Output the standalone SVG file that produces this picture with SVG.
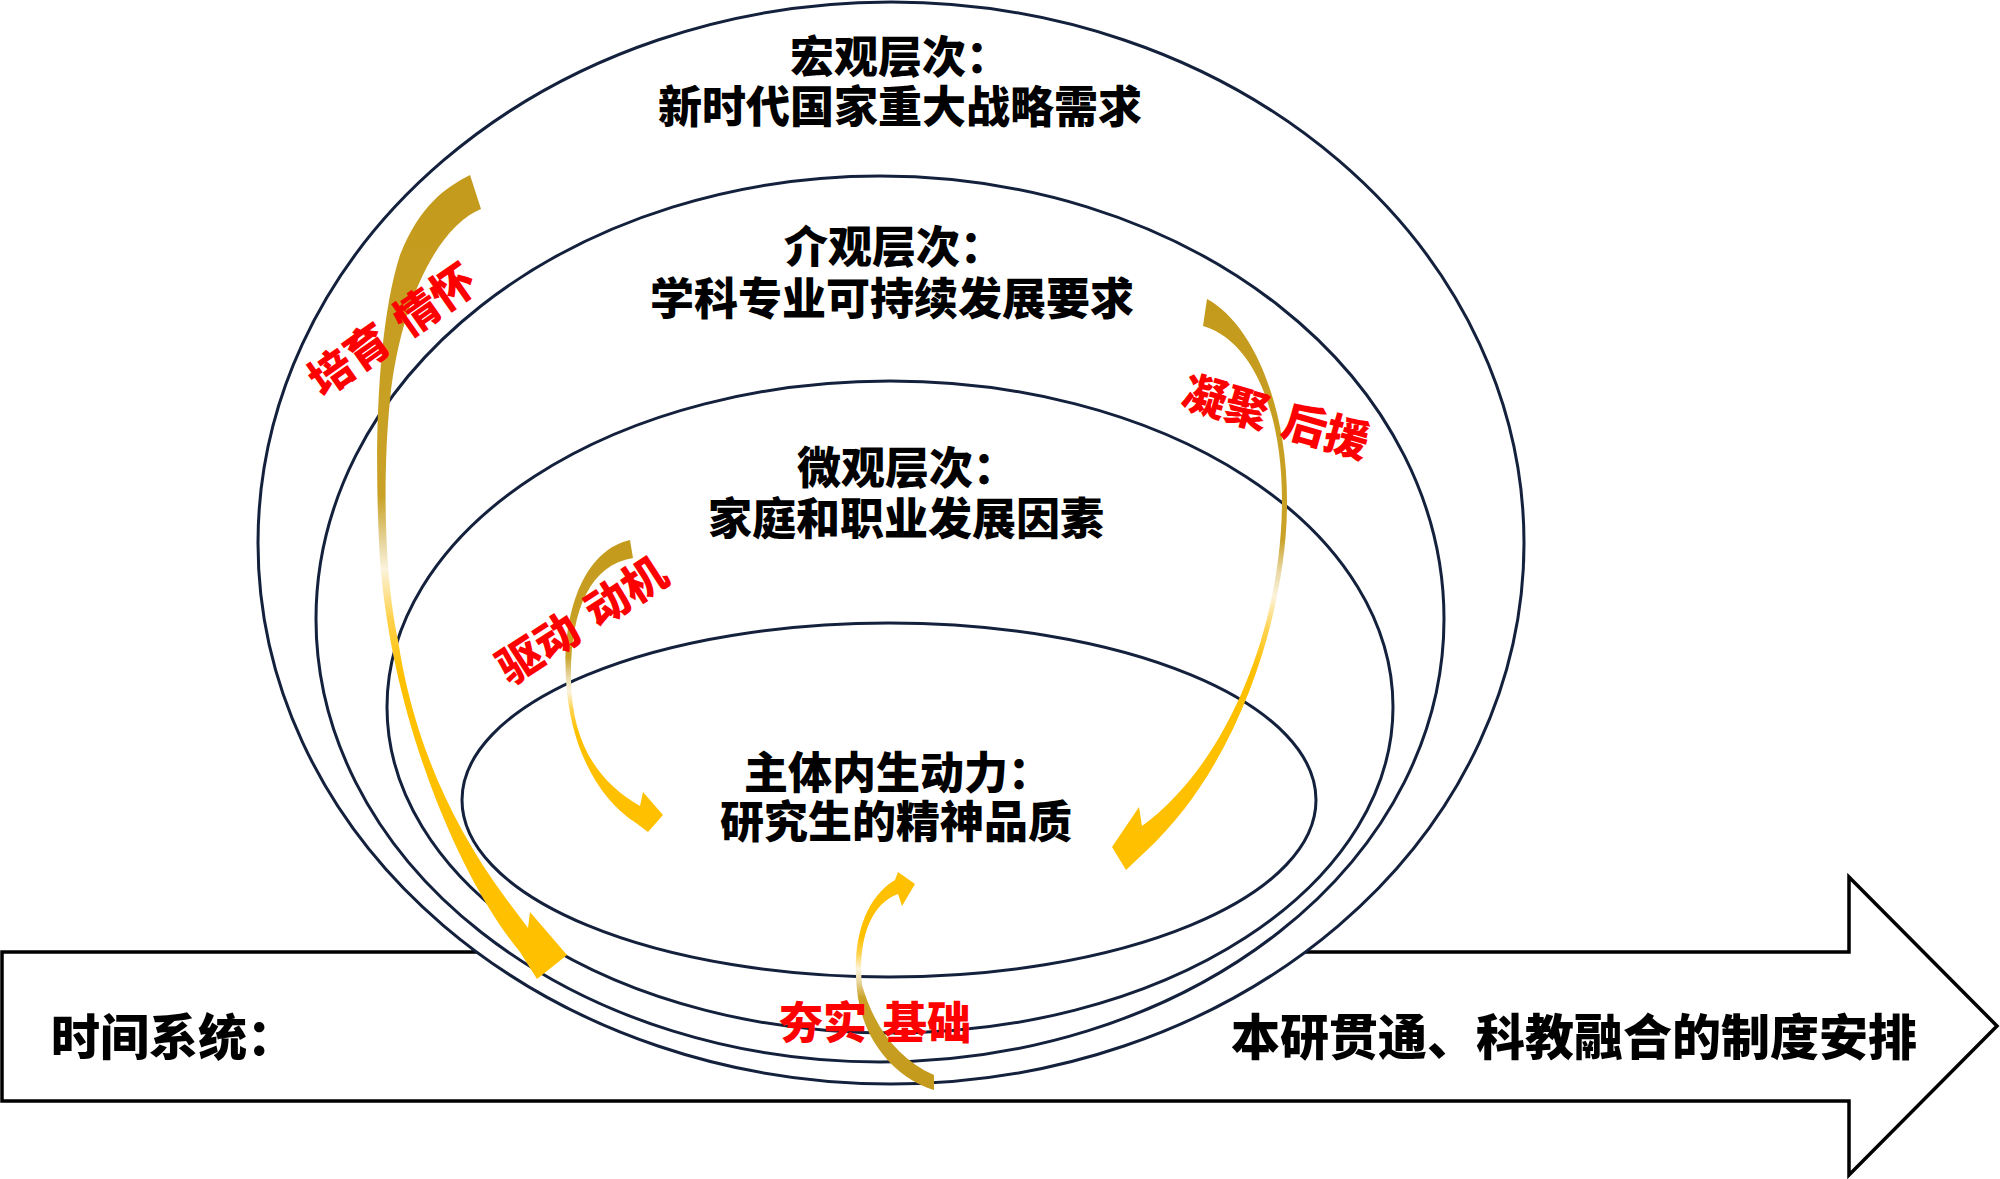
<svg xmlns="http://www.w3.org/2000/svg" width="2000" height="1179" viewBox="0 0 2000 1179">
<defs>
<style>
.ring{fill:#fff;stroke:#14213d;stroke-width:3}
.blk{fill:#fff;stroke:#000;stroke-width:3.5;stroke-linejoin:miter}
.t{font-family:"Noto Sans CJK SC","Liberation Sans",sans-serif;font-weight:900;fill:#000}
.title{font-size:44px;text-anchor:middle}
.band{font-size:49px}
.lab{font-family:"Noto Sans CJK SC","Liberation Sans",sans-serif;font-weight:900;font-size:44px;fill:#ff0000;text-anchor:middle}
</style>
<linearGradient id="g1" gradientUnits="userSpaceOnUse" x1="0" y1="175" x2="0" y2="980">
<stop offset="0" stop-color="#c49a1c"/><stop offset="0.40" stop-color="#c9a227"/><stop offset="0.46" stop-color="#e9d9a6"/><stop offset="0.49" stop-color="#fbf3dc"/><stop offset="0.55" stop-color="#ffd24d"/><stop offset="0.62" stop-color="#ffc000"/><stop offset="1" stop-color="#ffc000"/>
</linearGradient>
<linearGradient id="g2" gradientUnits="userSpaceOnUse" x1="0" y1="299" x2="0" y2="870">
<stop offset="0" stop-color="#c49a1c"/><stop offset="0.42" stop-color="#c9a227"/><stop offset="0.48" stop-color="#eadaa8"/><stop offset="0.52" stop-color="#fbf3dc"/><stop offset="0.58" stop-color="#ffd24d"/><stop offset="0.65" stop-color="#ffc000"/><stop offset="1" stop-color="#ffc000"/>
</linearGradient>
<linearGradient id="g3" gradientUnits="userSpaceOnUse" x1="0" y1="540" x2="0" y2="832">
<stop offset="0" stop-color="#c49a1c"/><stop offset="0.40" stop-color="#c9a227"/><stop offset="0.47" stop-color="#eadaa8"/><stop offset="0.52" stop-color="#fbf3dc"/><stop offset="0.58" stop-color="#ffd24d"/><stop offset="0.66" stop-color="#ffc000"/><stop offset="1" stop-color="#ffc000"/>
</linearGradient>
<linearGradient id="g4" gradientUnits="userSpaceOnUse" x1="0" y1="1090" x2="0" y2="870">
<stop offset="0" stop-color="#c49a1c"/><stop offset="0.42" stop-color="#c9a227"/><stop offset="0.50" stop-color="#eadaa8"/><stop offset="0.55" stop-color="#fbf3dc"/><stop offset="0.62" stop-color="#ffd24d"/><stop offset="0.70" stop-color="#ffc000"/><stop offset="1" stop-color="#ffc000"/>
</linearGradient>
</defs>
<rect width="2000" height="1179" fill="#fff"/>
<g id="time-arrow">
<polygon class="blk" points="2,952 1849,952 1849,877 1997,1026 1849,1175 1849,1101 2,1101"/>
<text class="t band" x="51" y="1055">时间系统：</text>
<text class="t band" x="1231" y="1055">本研贯通、科教融合的制度安排</text>
</g>
<g id="macro">
<ellipse class="ring" cx="891" cy="543" rx="633" ry="541"/>
<text class="t title" x="900" y="73">宏观层次：</text>
<text class="t title" x="900" y="123">新时代国家重大战略需求</text>
</g>
<g id="meso">
<ellipse class="ring" cx="880" cy="619" rx="564" ry="443"/>
<text class="t title" x="894" y="263">介观层次：</text>
<text class="t title" x="892" y="315">学科专业可持续发展要求</text>
</g>
<g id="micro">
<ellipse class="ring" cx="890" cy="707" rx="503" ry="326"/>
<text class="t title" x="907" y="484">微观层次：</text>
<text class="t title" x="906" y="535">家庭和职业发展因素</text>
</g>
<g id="core">
<ellipse class="ring" cx="889" cy="800" rx="427" ry="177"/>
<text class="t title" x="898" y="789">主体内生动力：</text>
<text class="t title" x="896" y="838">研究生的精神品质</text>
</g>
<g id="connectors">
<path id="arrow-cultivate" fill="url(#g1)" d="M470,175 L481,209 C440,225 400,300 390,400 C382,480 385,580 398,640 C410,720 440,810 507,900 L528,928 L530,912 L567,955 L537,979 L520,952 C460,880 392,720 380,560 C374,460 376,330 400,255 C420,205 445,188 470,175 Z"/>
<path id="arrow-support" fill="url(#g2)" d="M1207,299 C1250,322 1287,400 1287,500 C1288,600 1245,760 1145,852 L1126,870 L1112,847 L1139,807 L1142,826 C1232,760 1282,620 1282,500 C1282,410 1252,340 1203,326 Z"/>
<path id="arrow-drive" fill="url(#g3)" d="M630,540 C585,550 562,610 566,680 C570,750 600,800 636,823 L648,832 L663,815 L643,792 L640,806 C595,780 572,740 571,680 C570,610 590,565 633,558 Z"/>
<path id="arrow-base" fill="url(#g4)" d="M934,1090 C895,1078 862,1040 857,990 C852,945 862,900 895,880 L898,872 L915,884 L902,906 L898,894 C868,905 858,945 862,985 C875,1030 900,1060 934,1075 Z"/>
<text class="lab" transform="translate(392,330) rotate(-35)" y="16">培育<tspan dx="16">情怀</tspan></text>
<text class="lab" transform="translate(1276,417) rotate(16)" y="16">凝聚<tspan dx="16">后援</tspan></text>
<text class="lab" transform="translate(582,620) rotate(-33)" y="16">驱动<tspan dx="16">动机</tspan></text>
<text class="lab" x="875" y="1039">夯实<tspan dx="16">基础</tspan></text>
</g>
</svg>
